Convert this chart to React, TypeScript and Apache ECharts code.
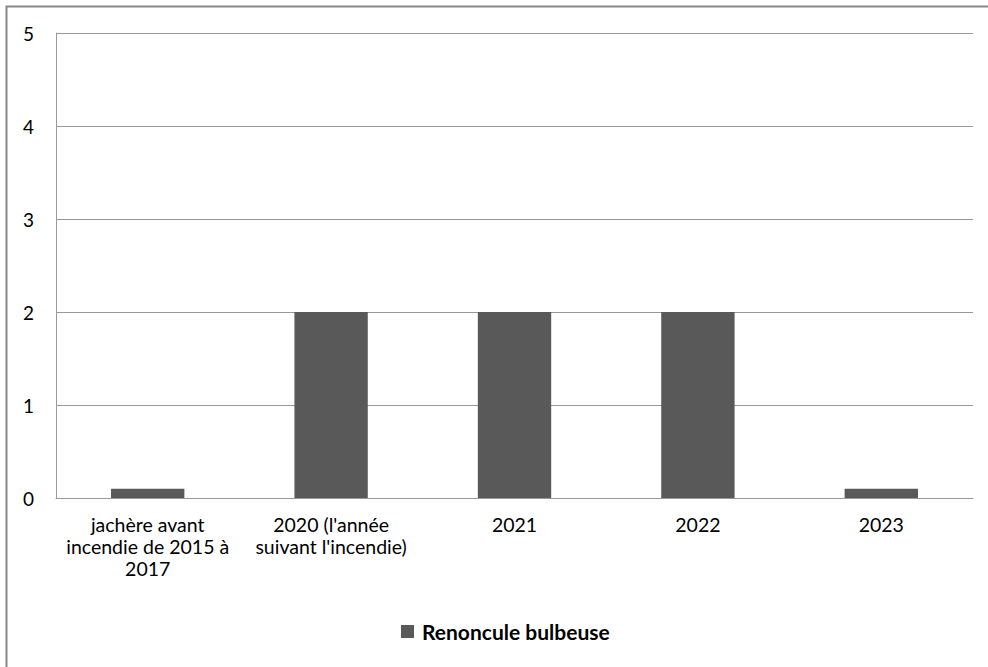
import React, { useEffect, useRef } from "react";
import * as echarts from "echarts";

const categories = [
  "jachère avant\nincendie de 2015 à\n2017",
  "2020 (l'année\nsuivant l'incendie)",
  "2021",
  "2022",
  "2023",
];
const seriesName = "Renoncule bulbeuse";
const values = [0.1, 2, 2, 2, 0.1];
const yTicks = { min: 0, max: 5, interval: 1 };

const FONT = "Lato, 'Open Sans', sans-serif";

export default function App() {
  const ref = useRef<HTMLDivElement>(null);
  useEffect(() => {
    document.body.style.margin = "0";
    const chart = echarts.init(ref.current!, null, { renderer: "svg" });
    chart.setOption({
      animation: false,
      backgroundColor: "#ffffff",
      graphic: [
        {
          type: "rect",
          shape: { x: 6.5, y: 6.5, width: 1000, height: 700 },
          style: { fill: "none", stroke: "#888888", lineWidth: 2 },
          silent: true,
        },
      ],
      grid: { left: 56, top: 33, right: 15, bottom: 169, containLabel: false },
      legend: {
        data: [seriesName],
        bottom: 20,
        left: 396,
        icon: "rect",
        itemWidth: 13,
        itemHeight: 13,
        itemGap: 6,
        textStyle: { fontFamily: FONT, fontSize: 21, fontWeight: "bold", color: "#000", padding: [0, 0, 0, 3] },
      },
      xAxis: {
        type: "category",
        data: categories,
        axisLine: { show: true, lineStyle: { color: "#999999", width: 1 } },
        axisTick: { show: false },
        axisLabel: {
          interval: 0,
          margin: 15,
          fontFamily: FONT,
          fontSize: 19.5,
          lineHeight: 22,
          color: "#000",
          align: "center",
        },
      },
      yAxis: {
        type: "value",
        min: yTicks.min,
        max: yTicks.max,
        interval: yTicks.interval,
        axisLine: { show: true, lineStyle: { color: "#999999", width: 1 } },
        axisTick: { show: false },
        splitLine: { show: true, lineStyle: { color: "#999999", width: 1 } },
        axisLabel: { margin: 22, fontFamily: FONT, fontSize: 19, color: "#000" },
      },
      series: [
        {
          name: seriesName,
          type: "bar",
          data: values,
          barWidth: "40%",
          itemStyle: { color: "#595959" },
        },
      ],
    });
    return () => chart.dispose();
  }, []);
  return (
    <div
      ref={ref}
      style={{ position: "fixed", left: 0, top: 0, width: 988, height: 667 }}
    />
  );
}
